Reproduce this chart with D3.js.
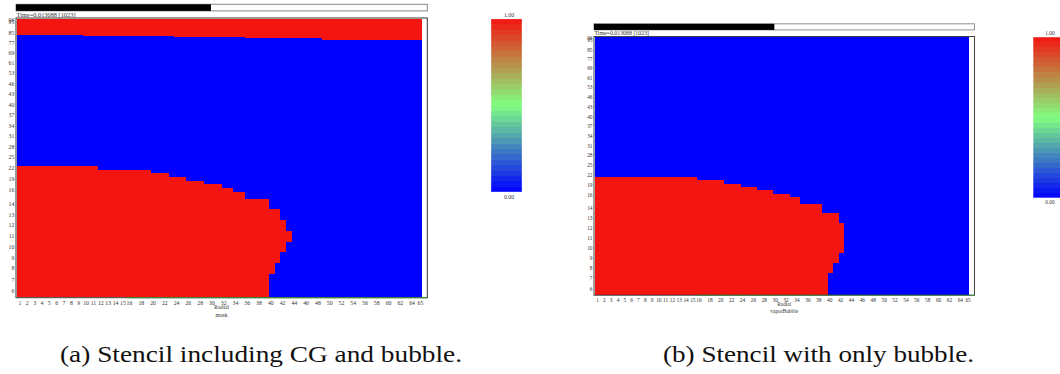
<!DOCTYPE html>
<html>
<head>
<meta charset="utf-8">
<script src="https://cdn.jsdelivr.net/npm/d3@7"></script>
<style>
  html, body { margin: 0; padding: 0; background: #fff; }
  svg { display: block; }
  .lbl { font-family: "Liberation Serif", "Times New Roman", "DejaVu Serif", serif; fill: #333; }
  .cap { font-family: "Liberation Serif", "Times New Roman", "DejaVu Serif", serif; fill: #111; }
</style>
</head>
<body>
<svg id="fig" width="1060" height="374"></svg>
<script>
// ---- Mesh definition -------------------------------------------------
// Radial cells 1..65: two zones of uniform cell width (mm)
const radialZoneFirstCol = [1, 16];
const radialZoneDr = [1.25, 1.0];
const radialLastCol = 65;

// Axial rows 6..96: stretched zones of uniform cell height (mm)
const axialZoneFirstRow = [6, 8, 15, 16, 23, 47, 54, 86, 96];
const axialZoneDz = [11.65, 10.75, 7.0, 3.63, 3.5, 1.43, 1.25, 1.07, 2.8];
const axialLastRow = 96;

// Axis tick labels (cell indices)
const xTickLabels = [1, 2, 3, 4, 5, 6, 7, 8, 9, 10, 11, 12, 13, 14, 15, 16, 18, 20, 22, 24, 26, 28, 30,
  32, 34, 36, 38, 40, 42, 44, 46, 48, 50, 52, 54, 56, 58, 60, 62, 64, 65];
const yTickLabels = [6, 7, 8, 9, 10, 11, 12, 13, 14, 16, 19, 22, 25, 28, 31, 34, 37, 40, 43, 46, 53, 61,
  69, 77, 85, 95, 96];

// ---- Field data ------------------------------------------------------
// Bubble: number of radial cells flagged, for each axial row
const bubbleRows = [6, 7, 8, 9, 10, 11, 12, 13, 14, 15, 16, 17, 18, 19, 20, 21, 22];
const bubbleCellsMask = [39, 39, 40, 41, 42, 43, 42, 41, 39, 35, 33, 31, 28, 25, 22, 19, 11];
const bubbleCellsVapor = [39, 39, 40, 41, 42, 42, 42, 41, 38, 34, 32, 29, 26, 23, 20, 15, 0];

// Cover gas: lowest flagged axial row, for each group of radial cells
const coverGasFirstCol = [1, 10, 24, 36, 49];
const coverGasLowestRow = [84, 83, 82, 81, 80];

const timeLabel = "Time=0.013088 [1023]";
const progressFraction = 0.474;
const legendMaxLabel = "1.00";
const legendMinLabel = "0.00";
const axisTitle = "Radial";
const fieldNames = ["mask", "vaporBubble"];
const captions = ["(a) Stencil including CG and bubble.", "(b) Stencil with only bubble."];

// ---- Helpers ----------------------------------------------------------
function zoneEdges(firstIdx, sizes, lastIdx) {
  const edges = new Map();
  let pos = 0;
  for (let z = 0; z < firstIdx.length; z++) {
    const end = z + 1 < firstIdx.length ? firstIdx[z + 1] - 1 : lastIdx;
    for (let i = firstIdx[z]; i <= end; i++) {
      edges.set(i, [pos, pos + sizes[z]]);
      pos += sizes[z];
    }
  }
  return { edges, total: pos };
}

const radial = zoneEdges(radialZoneFirstCol, radialZoneDr, radialLastCol);
const axial = zoneEdges(axialZoneFirstRow, axialZoneDz, axialLastRow);
const firstRow = axialZoneFirstRow[0];

function coverGasRow(col) {
  let r = Infinity;
  coverGasFirstCol.forEach((c, i) => { if (col >= c) r = coverGasLowestRow[i]; });
  return r;
}

function bubbleValue(cells, row, col) {
  const k = bubbleRows.indexOf(row);
  return k >= 0 && col <= cells[k] ? 1 : 0;
}

const fields = [
  (row, col) => (bubbleValue(bubbleCellsMask, row, col) || row >= coverGasRow(col)) ? 1 : 0,
  (row, col) => bubbleValue(bubbleCellsVapor, row, col)
];

const color = d3.scaleLinear()
  .domain([0, 0.5, 1])
  .range(["#0000ff", "#80ff80", "#f51510"]);

// ---- Layout (panel-local units) ---------------------------------------
const frameW = 411.3, frameH = 279.7;
const data = { x0: 1, x1: 405.7, y0: 0.5, y1: 279.2 };
const panels = [
  { ox: 16, oy: 18, s: 1 },
  { ox: 594, oy: 36.5, s: 0.925 }
];

const svg = d3.select("#fig");
const fs = 5.8;

panels.forEach((p, pi) => {
  const g = svg.append("g").attr("transform", `translate(${p.ox},${p.oy}) scale(${p.s})`);
  const field = fields[pi];

  const x = d3.scaleLinear().domain([0, radial.total]).range([data.x0, data.x1]);
  const y = d3.scaleLinear().domain([0, axial.total]).range([data.y1, data.y0]);

  // progress bar
  g.append("rect").attr("x", 0).attr("y", -13.7).attr("width", frameW).attr("height", 6.6)
    .attr("fill", "#fff").attr("stroke", "#888").attr("stroke-width", 1);
  g.append("rect").attr("x", 0).attr("y", -13.7).attr("width", frameW * progressFraction).attr("height", 6.6)
    .attr("fill", "#000");

  // time stamp
  g.append("text").attr("class", "lbl").attr("x", 0.5).attr("y", -1.2)
    .attr("font-size", 6.6)
    .attr("textLength", 59).attr("lengthAdjust", "spacingAndGlyphs")
    .text(timeLabel);

  // plot frame background
  g.append("rect").attr("x", 0).attr("y", 0).attr("width", frameW).attr("height", frameH)
    .attr("fill", "#fff");

  // cells, merged into runs of equal value along each row
  const runs = [];
  for (let row = firstRow; row <= axialLastRow; row++) {
    let start = 1, cur = field(row, 1);
    for (let col = 2; col <= radialLastCol + 1; col++) {
      const v = col <= radialLastCol ? field(row, col) : null;
      if (v !== cur) {
        runs.push({ row, c0: start, c1: col - 1, v: cur });
        start = col; cur = v;
      }
    }
  }
  g.append("g").attr("shape-rendering", "crispEdges")
    .selectAll("rect").data(runs).join("rect")
    .attr("x", d => x(radial.edges.get(d.c0)[0]))
    .attr("width", d => x(radial.edges.get(d.c1)[1]) - x(radial.edges.get(d.c0)[0]))
    .attr("y", d => y(axial.edges.get(d.row)[1]))
    .attr("height", d => y(axial.edges.get(d.row)[0]) - y(axial.edges.get(d.row)[1]))
    .attr("fill", d => color(d.v));

  // frame
  g.append("rect").attr("x", 0).attr("y", 0).attr("width", frameW).attr("height", frameH)
    .attr("fill", "none").attr("stroke", "#333").attr("stroke-width", 1);
  g.append("line")
    .attr("x1", x(radial.edges.get(radialZoneFirstCol[1])[0])).attr("x2", frameW)
    .attr("y1", frameH).attr("y2", frameH)
    .attr("stroke", "#2f8f2f").attr("stroke-width", 1.2).attr("stroke-dasharray", "2.5,1");

  // y tick labels at row centres
  g.append("g").selectAll("text").data(yTickLabels).join("text")
    .attr("class", "lbl")
    .attr("x", -1.6)
    .attr("y", d => y((axial.edges.get(d)[0] + axial.edges.get(d)[1]) / 2) + 1.9)
    .attr("text-anchor", "end")
    .attr("font-size", fs)
    .text(d => d);

  // x tick labels at column centres
  g.append("g").selectAll("text").data(xTickLabels).join("text")
    .attr("class", "lbl")
    .attr("x", (d, i) => x((radial.edges.get(d)[0] + radial.edges.get(d)[1]) / 2) - 0.8 + (i === xTickLabels.length - 1 ? 2.5 : 0))
    .attr("y", 286.6)
    .attr("text-anchor", "middle")
    .attr("font-size", fs)
    .text(d => d);

  g.append("text").attr("class", "lbl").attr("x", frameW / 2).attr("y", 291.2).attr("text-anchor", "middle")
    .attr("font-size", fs).text(axisTitle);
  g.append("text").attr("class", "lbl").attr("x", frameW / 2).attr("y", 299).attr("text-anchor", "middle")
    .attr("font-size", fs).text(fieldNames[pi]);

  // colour legend
  const bands = 32;
  const cbX = 475, cbW = 31, cbTop = 0.7, cbH = 173.3;
  const cy = d3.scaleLinear().domain([0, 1]).range([cbTop + cbH, cbTop]);
  g.append("g").attr("shape-rendering", "crispEdges")
    .selectAll("rect").data(d3.range(bands)).join("rect")
    .attr("x", cbX).attr("width", cbW)
    .attr("y", i => cy((i + 1) / bands))
    .attr("height", i => cy(i / bands) - cy((i + 1) / bands) + 0.3)
    .attr("fill", i => color((i + 0.5) / bands));
  g.append("rect").attr("x", cbX).attr("y", cbTop).attr("width", cbW).attr("height", cbH)
    .attr("fill", "none").attr("stroke", "#fff").attr("stroke-opacity", 0.35).attr("stroke-width", 1);
  g.append("text").attr("class", "lbl").attr("x", cbX + cbW / 2 + 2.5).attr("y", -1.2).attr("text-anchor", "middle")
    .attr("font-size", fs).text(legendMaxLabel);
  g.append("text").attr("class", "lbl").attr("x", cbX + cbW / 2 + 2.5).attr("y", 181).attr("text-anchor", "middle")
    .attr("font-size", fs).text(legendMinLabel);
});

// sub-figure captions
const captionPos = [{ x: 60, w: 402 }, { x: 663, w: 311 }];
svg.append("g").selectAll("text").data(captions).join("text")
  .attr("class", "cap")
  .attr("x", (d, i) => captionPos[i].x)
  .attr("y", 362)
  .attr("font-size", 23)
  .attr("textLength", (d, i) => captionPos[i].w)
  .attr("lengthAdjust", "spacingAndGlyphs")
  .text(d => d);
</script>
</body>
</html>
